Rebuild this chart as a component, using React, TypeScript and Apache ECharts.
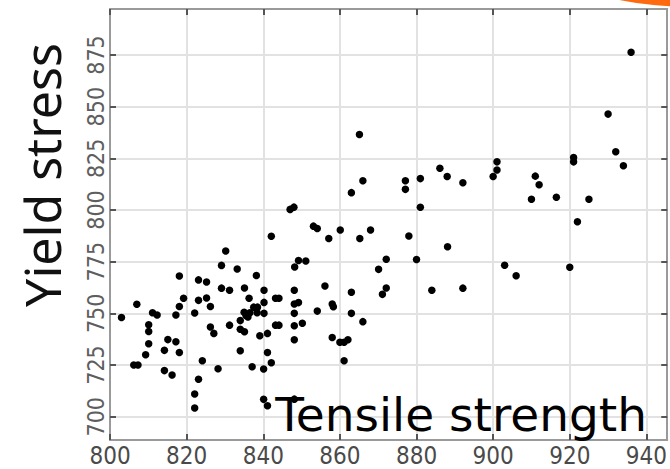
import React, { useEffect, useRef } from "react";
import * as echarts from "echarts";

const tensileStrength = [
  803, 807, 806.2, 807.3, 809.3, 810.1, 810.1, 810.1, 811.1, 812.3,
  814.2, 815.1, 814.2, 816.2, 817.2, 818.1, 817.2, 818.1, 819.2, 818.1,
  822.1, 822.1, 822.1, 823.1, 824.1, 823.1, 823.1, 825.2, 825.2, 826.2,
  826.2, 827.1, 828.2, 829.1, 830.2, 829.1, 831.2, 831.2, 833.2, 834,
  834, 834, 835.1, 835.1, 836.3, 835, 835.5, 836, 836.5, 837.5,
  838.5, 838.4, 838.2, 837.1, 840.2, 840.2, 840.2, 839.1, 841.1, 841.1,
  842.1, 840.1, 840.1, 841.1, 842.1, 843.2, 844.1, 843.2, 844.1, 847,
  848, 848.2, 849.2, 851.1, 848.1, 848.1, 849.2, 848.1, 848.1, 850.2,
  848.1, 848.1, 853.1, 854.1, 854.1, 856.1, 857.1, 858, 858.3, 858,
  860.1, 860, 861.1, 862.1, 861.1, 863, 863, 863, 865.1, 865.2,
  866, 866, 868, 870.1, 871.1, 872.1, 872.1, 877.1, 877.1, 878,
  880, 881, 881, 884, 886.1, 888, 888.1, 892.1, 892.1, 900,
  901, 901, 903, 906, 910, 911, 912, 916.5, 920, 921,
  921, 922, 925, 930, 932, 934, 936,
];

const yieldStress = [
  748, 754.4, 725, 725, 730, 744.5, 741.2, 735.3, 750.3, 749.2,
  732.1, 737.3, 722.3, 720.2, 736.3, 731.1, 749.2, 753.3, 757.3, 768.1,
  750.2, 711, 704.2, 718.1, 727.1, 756.3, 766.2, 765.2, 757.4, 753.3,
  743.4, 740.3, 723.2, 773.2, 780.2, 762.2, 761.2, 744.3, 771.5, 746.5,
  731.9, 742.3, 741.1, 762.3, 757.3, 750.5, 749, 748.3, 750.3, 753,
  753, 750.3, 768.3, 724.2, 761.2, 755.3, 750, 739.2, 740.3, 731.1,
  726.1, 723.1, 708.4, 705.3, 787.3, 757.3, 757.3, 744.3, 744.3, 800.3,
  801.4, 772.4, 775.6, 775.3, 761.2, 754.5, 755.2, 750, 744, 745.2,
  737.2, 708.5, 792.2, 791.1, 751.1, 763.2, 786.2, 754.5, 753.2, 738.3,
  790.3, 736, 736, 737.2, 727.1, 808.4, 760.2, 750, 836.5, 786.2,
  814.2, 746, 790.3, 771.3, 759.2, 762.3, 776.2, 814.2, 810, 787.4,
  776.1, 815.2, 801.3, 761.2, 820.2, 816.2, 782.2, 813.2, 762.2, 816.2,
  819.4, 823.3, 773.3, 768.2, 805.2, 816.4, 812.2, 806.2, 772.3, 825.4,
  823.3, 794.3, 805.2, 846.4, 828.2, 821.4, 876.3,
];

const xTicks = [800, 820, 840, 860, 880, 900, 920, 940];
const yTicks = [700, 725, 750, 775, 800, 825, 850, 875];

const X_MIN = 800;
const X_MAX = 945.44;
const Y_MIN = 688.73;
const Y_MAX = 897.26;

export default function App() {
  const ref = useRef<HTMLDivElement>(null);

  useEffect(() => {
    if (!ref.current) return;
    const chart = echarts.init(ref.current, null, { renderer: "svg" });
    const points = tensileStrength.map((x, i) => [x, yieldStress[i]]);
    const frameColor = "#9a9a9a";
    const tickColor = "#555";
    const gridColor = "#e2e2e2";
    const labelFont = "'DejaVu Sans Condensed', 'Liberation Sans Narrow', 'DejaVu Sans', sans-serif";

    chart.setOption({
      animation: false,
      backgroundColor: "#ffffff",
      grid: { left: 110, top: 9, width: 561, height: 431, containLabel: false },
      xAxis: [
        {
          type: "value",
          position: "bottom",
          min: X_MIN,
          max: X_MAX,
          axisLine: { show: true, onZero: false, lineStyle: { color: frameColor, width: 2 } },
          axisTick: { show: true, inside: true, length: 6, customValues: xTicks, lineStyle: { color: tickColor, width: 2 } },
          axisLabel: {
            show: true,
            customValues: xTicks,
            color: "#4a4a4a",
            fontSize: 24,
            fontFamily: labelFont,
            margin: 4,
          },
          splitLine: { show: true, lineStyle: { color: gridColor, width: 2 } },
        },
        {
          type: "value",
          position: "top",
          min: X_MIN,
          max: X_MAX,
          axisLine: { show: true, onZero: false, lineStyle: { color: frameColor, width: 2 } },
          axisTick: { show: true, inside: true, length: 6, customValues: xTicks, lineStyle: { color: tickColor, width: 2 } },
          axisLabel: { show: false },
          splitLine: { show: false },
        },
      ],
      yAxis: [
        {
          type: "value",
          position: "left",
          min: Y_MIN,
          max: Y_MAX,
          axisLine: { show: true, onZero: false, lineStyle: { color: frameColor, width: 2 } },
          axisTick: { show: true, inside: true, length: 6, customValues: yTicks, lineStyle: { color: tickColor, width: 2 } },
          axisLabel: {
            show: true,
            customValues: yTicks,
            rotate: 90,
            color: "#5e5e5e",
            fontSize: 23,
            fontFamily: labelFont,
            margin: 3,
          },
          splitLine: { show: true, lineStyle: { color: gridColor, width: 2 } },
        },
        {
          type: "value",
          position: "right",
          min: Y_MIN,
          max: Y_MAX,
          axisLine: { show: true, onZero: false, lineStyle: { color: frameColor, width: 2 } },
          axisTick: { show: true, inside: true, length: 6, customValues: yTicks, lineStyle: { color: tickColor, width: 2 } },
          axisLabel: { show: false },
          splitLine: { show: false },
        },
      ],
      series: [
        {
          type: "scatter",
          xAxisIndex: 0,
          yAxisIndex: 0,
          data: points,
          symbol: "circle",
          symbolSize: 7.5,
          itemStyle: { color: "#000000", opacity: 1 },
          z: 3,
        },
      ],
      graphic: [
        {
          type: "ellipse",
          shape: { cx: 700, cy: -20, rx: 120, ry: 27 },
          style: { fill: "#ff6a10" },
          z: 10,
        },
        {
          type: "text",
          x: 42,
          y: 175,
          rotation: Math.PI / 2,
          style: {
            text: "Yield stress",
            fontSize: 50,
            fontFamily: "'Noto Sans', 'Open Sans', sans-serif",
            fill: "#111",
            align: "center",
            verticalAlign: "middle",
          },
          z: 10,
        },
        {
          type: "text",
          x: 647,
          y: 414,
          style: {
            text: "Tensile strength",
            fontSize: 47,
            fontFamily: "'DejaVu Sans', sans-serif",
            fill: "#000",
            align: "right",
            verticalAlign: "middle",
          },
          z: 10,
        },
      ],
    });

    return () => {
      chart.dispose();
    };
  }, []);

  return (
    <div
      ref={ref}
      style={{ position: "fixed", left: 0, top: 0, width: 670, height: 469 }}
    />
  );
}
